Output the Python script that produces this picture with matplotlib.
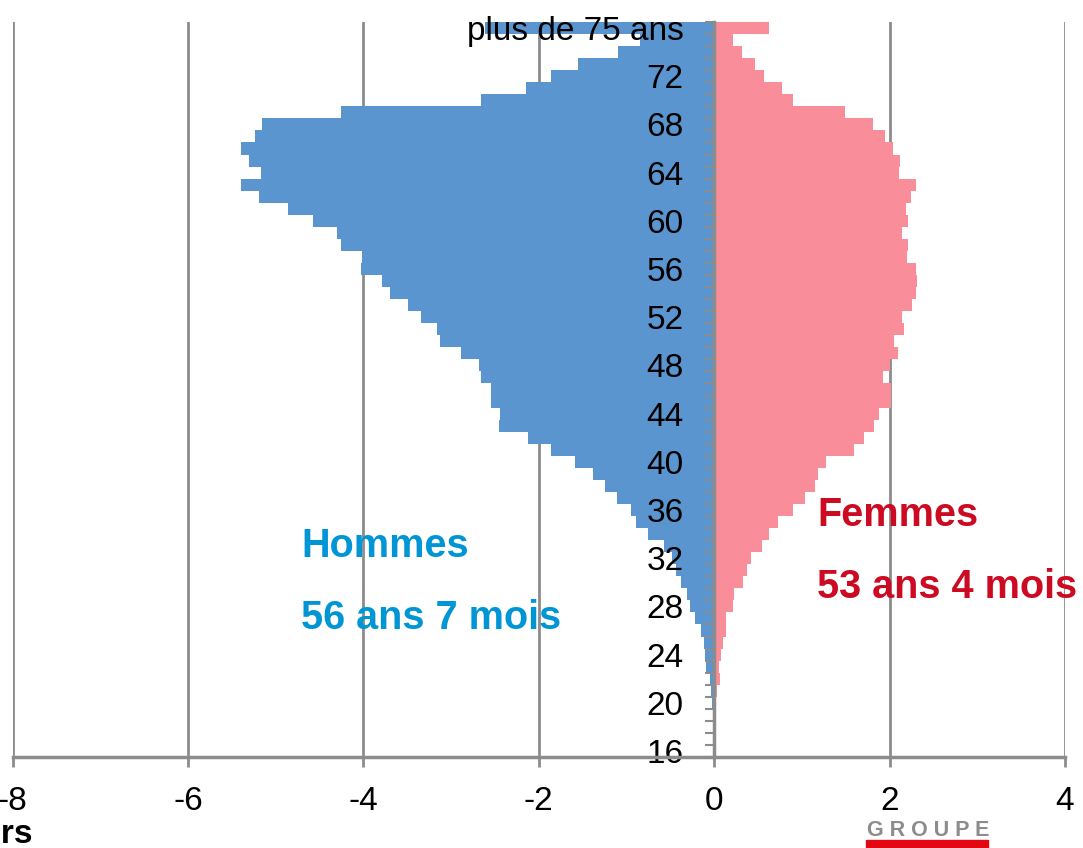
import matplotlib
matplotlib.use("Agg")
import matplotlib.pyplot as plt
from matplotlib.patches import Rectangle
import numpy as np

plt.rcParams['font.family'] = ['Liberation Sans', 'DejaVu Sans']
plt.rcParams['axes.unicode_minus'] = False

# age groups, bottom to top
ages = [str(a) for a in range(16, 76)] + ['plus de 75 ans']

# effectifs en milliers
hommes = [0, 0, 0, 0.01, 0.02, 0.04, 0.05, 0.09, 0.10, 0.12,
          0.15, 0.22, 0.28, 0.31, 0.38, 0.44, 0.48, 0.57, 0.76, 0.89,
          0.95, 1.11, 1.25, 1.38, 1.59, 1.86, 2.12, 2.45, 2.44, 2.54,
          2.54, 2.66, 2.68, 2.89, 3.13, 3.16, 3.34, 3.49, 3.70, 3.79,
          4.03, 4.02, 4.25, 4.30, 4.57, 4.86, 5.19, 5.39, 5.17, 5.30,
          5.39, 5.24, 5.16, 4.25, 2.66, 2.15, 1.86, 1.55, 1.10, 0.84,
          2.61]
femmes = [0, 0, 0, 0, 0.02, 0.03, 0.07, 0.06, 0.08, 0.10,
          0.13, 0.14, 0.21, 0.23, 0.33, 0.38, 0.42, 0.54, 0.62, 0.73,
          0.90, 1.03, 1.15, 1.18, 1.28, 1.59, 1.71, 1.82, 1.88, 2.02,
          2.02, 1.92, 2.01, 2.10, 2.05, 2.17, 2.14, 2.26, 2.30, 2.31,
          2.30, 2.20, 2.21, 2.14, 2.21, 2.19, 2.24, 2.30, 2.11, 2.12,
          2.04, 1.95, 1.81, 1.49, 0.90, 0.77, 0.57, 0.47, 0.32, 0.21,
          0.63]
x_ticks = [-8, -6, -4, -2, 0, 2, 4]

W, H = 1083, 848
grey = '#8c8c8c'
blue = '#5b95cf'
pink = '#f98d99'

fig = plt.figure(figsize=(W / 100, H / 100), dpi=100)
ax = fig.add_axes([12.5 / W, (H - 757) / H, (1065 - 12.5) / W, (757 - 22) / H])

y = np.arange(len(ages))
ax.barh(y, [-v for v in hommes], height=1.0, color=blue, linewidth=0, zorder=1)
ax.barh(y, femmes, height=1.0, color=pink, linewidth=0, zorder=1)

for xv in x_ticks:
    if xv != 0:
        ax.axvline(xv, color=grey, lw=2, zorder=0)

ax.set_xlim(-8, 4)
ax.set_ylim(-0.5, len(ages) - 0.5)

for s in ['top', 'right']:
    ax.spines[s].set_visible(False)
ax.spines['left'].set_position(('data', 0))
ax.spines['left'].set_color(grey)
ax.spines['left'].set_linewidth(2.5)
ax.spines['bottom'].set_color(grey)
ax.spines['bottom'].set_linewidth(2.5)

ax.set_xticks(x_ticks)
ax.set_xticklabels([str(v) for v in x_ticks])
ax.tick_params(axis='x', length=7, width=2, color=grey, labelsize=24, pad=14)

ax.set_yticks(y[::4])
ax.set_yticklabels(ages[::4])
ax.set_yticks(np.arange(-0.5, len(ages), 1), minor=True)
ax.tick_params(axis='y', which='major', length=0, labelsize=24, pad=22)
ax.tick_params(axis='y', which='minor', length=6.5, width=1.5, color=grey)

def px(x, yy):
    return x / W, 1 - yy / H

fig.text(*px(301, 557), 'Hommes', color='#0096d6', fontsize=28.5,
         fontweight='bold', va='baseline')
fig.text(*px(301, 629), '56 ans 7 mois', color='#0096d6', fontsize=28.5,
         fontweight='bold', va='baseline')
fig.text(*px(817, 526), 'Femmes', color='#cc0a22', fontsize=28.5,
         fontweight='bold', va='baseline')
fig.text(*px(817, 598), '53 ans 4 mois', color='#cc0a22', fontsize=28.5,
         fontweight='bold', va='baseline')

fig.text(*px(33, 843), 'Milliers', fontsize=24, fontweight='bold',
         ha='right', va='baseline')

# logo
fig.text(*px(928, 836), 'G R O U P E', color='#8c8c8c', fontsize=15.5,
         fontweight='bold', ha='center', va='baseline')
fig.patches.append(Rectangle(px(866, 848), 122 / W, 8 / H, color='#e30613',
                             transform=fig.transFigure, figure=fig))

fig.savefig('out.png', dpi=100)
